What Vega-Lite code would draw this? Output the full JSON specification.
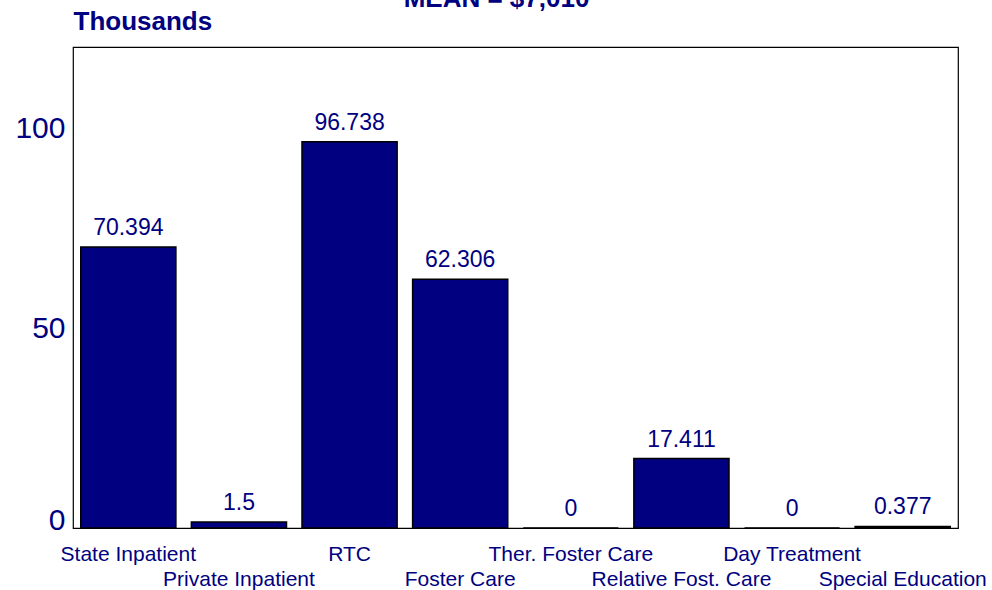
{
  "$schema": "https://vega.github.io/schema/vega-lite/v6.json",
  "autosize": {"type": "none"},
  "width": 885,
  "height": 481,
  "padding": {"left": 73, "top": 47, "right": 34, "bottom": 62},
  "background": "white",
  "title": {
    "text": "MEAN = $7,010",
    "anchor": "middle",
    "dx": -19,
    "dy": 25,
    "offset": 0,
    "baseline": "alphabetic",
    "font": "Liberation Sans",
    "fontSize": 26,
    "fontWeight": "bold",
    "color": "#000080"
  },
  "config": {
    "view": {"stroke": "#000000", "strokeWidth": 1.2},
    "font": "Liberation Sans"
  },
  "data": {
    "values": [
      {"service": "State Inpatient", "value": 70.394, "label": "70.394"},
      {"service": "Private Inpatient", "value": 1.5, "label": "1.5"},
      {"service": "RTC", "value": 96.738, "label": "96.738"},
      {"service": "Foster Care", "value": 62.306, "label": "62.306"},
      {"service": "Ther. Foster Care", "value": 0, "label": "0"},
      {"service": "Relative Fost. Care", "value": 17.411, "label": "17.411"},
      {"service": "Day Treatment", "value": 0, "label": "0"},
      {"service": "Special Education", "value": 0.377, "label": "0.377"}
    ]
  },
  "encoding": {
    "x": {
      "field": "service",
      "type": "nominal",
      "sort": null,
      "scale": {"paddingInner": 0.14, "paddingOuter": 0.07},
      "axis": {
        "title": null,
        "domain": false,
        "ticks": false,
        "labelAngle": 0,
        "labelFont": "Liberation Sans",
        "labelFontSize": 21,
        "labelColor": "#000080",
        "labelOverlap": false,
        "labelBaseline": "top",
        "labelPadding": {
          "condition": {
            "test": "indexof(['Private Inpatient','Foster Care','Relative Fost. Care','Special Education'], datum.value) >= 0",
            "value": 40
          },
          "value": 15
        }
      }
    },
    "y": {
      "field": "value",
      "type": "quantitative",
      "scale": {"domain": [0, 120.5], "nice": false},
      "axis": {
        "title": "Thousands",
        "titleAngle": 0,
        "titleAlign": "left",
        "titleBaseline": "alphabetic",
        "titleX": 0,
        "titleY": -18,
        "titleFont": "Liberation Sans",
        "titleFontSize": 26,
        "titleFontWeight": "bold",
        "titleColor": "#000080",
        "values": [0, 50, 100],
        "domain": false,
        "ticks": false,
        "grid": false,
        "labelFont": "Liberation Sans",
        "labelFontSize": 30,
        "labelColor": "#000080",
        "labelPadding": 8,
        "labelOffset": {
          "condition": {"test": "datum.value === 0", "value": -8},
          "value": 0
        }
      }
    }
  },
  "layer": [
    {
      "mark": {"type": "bar", "color": "#000080", "stroke": "#000000", "strokeWidth": 1.5}
    },
    {
      "mark": {
        "type": "text",
        "baseline": "alphabetic",
        "dy": -12,
        "font": "Liberation Sans",
        "fontSize": 23,
        "color": "#000080"
      },
      "encoding": {"text": {"field": "label"}}
    }
  ]
}
